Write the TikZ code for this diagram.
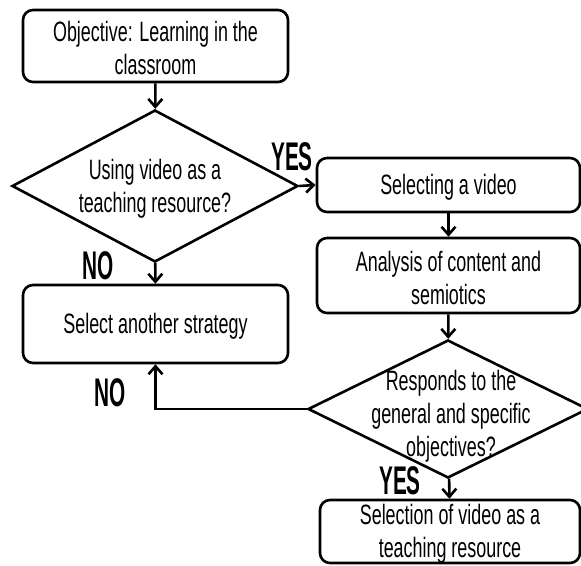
\documentclass[tikz,border=0pt]{standalone}
\usepackage{fontspec}
\setmainfont[FakeStretch=0.64]{Liberation Sans}
\newfontfamily\lblfont[FakeStretch=0.52]{Liberation Sans}
\usetikzlibrary{shapes.geometric,arrows.meta}
\tikzset{
  box/.style={draw, line width=2.6pt, rounded corners=10pt, inner sep=0pt},
  dia/.style={draw, line width=2.6pt, diamond, inner sep=0pt},
  txt/.style={align=center, font=\fontsize{28}{33}\selectfont, inner sep=0pt},
  lbl/.style={font=\lblfont\bfseries\fontsize{40}{40}\selectfont, inner sep=0pt},
  conn/.style={line width=2.6pt, -{Straight Barb[length=8pt,width=14pt,line width=2.6pt]}}
}
\begin{document}
\begin{tikzpicture}[x=1pt,y=-1pt]
\useasboundingbox (0,0) rectangle (581,565);
\node[box, minimum width=265pt, minimum height=72pt] (b1) at (155.5,46) {};
\node[txt] (t1) at (155.5,48) {Objective: Learning in the\\classroom};
\node[dia, minimum width=286pt, minimum height=152pt] (d1) at (155,186) {};
\node[txt] (t2) at (155,189) {Using video as a\\teaching resource?};
\node[box, minimum width=263pt, minimum height=54pt] (b2) at (448.5,185) {};
\node[txt] (t3) at (448.5,187) {Selecting a video};
\node[box, minimum width=263pt, minimum height=75pt] (b3) at (448.5,275.5) {};
\node[txt] (t4) at (448.5,278) {Analysis of content and\\semiotics};
\node[box, minimum width=265pt, minimum height=78pt] (b4) at (155.5,324) {};
\node[txt] (t5) at (155.5,326) {Select another strategy};
\node[dia, minimum width=280pt, minimum height=138pt] (d2) at (448,409) {};
\node[txt] (t6) at (451,416) {Responds to the\\general and specific\\objectives?};
\node[box, minimum width=260pt, minimum height=63pt] (b5) at (450,531.5) {};
\node[txt] (t7) at (450,534) {Selection of video as a\\teaching resource};
\draw[conn] (b1) -- (d1);
\draw[conn] (d1) -- (b4);
\draw[conn] (d1.east) -- (b2.west);
\draw[conn] (b2) -- (b3);
\draw[conn] (b3) -- (d2);
\draw[conn] (d2) -- (b5);
\draw[conn] (d2.west) -| (b4.south);
\node[lbl] (y1) at (292,157) {YES};
\node[lbl] (n1) at (98,266) {NO};
\node[lbl] (n2) at (110,393) {NO};
\node[lbl] (y2) at (400,481) {YES};
\end{tikzpicture}
\end{document}
